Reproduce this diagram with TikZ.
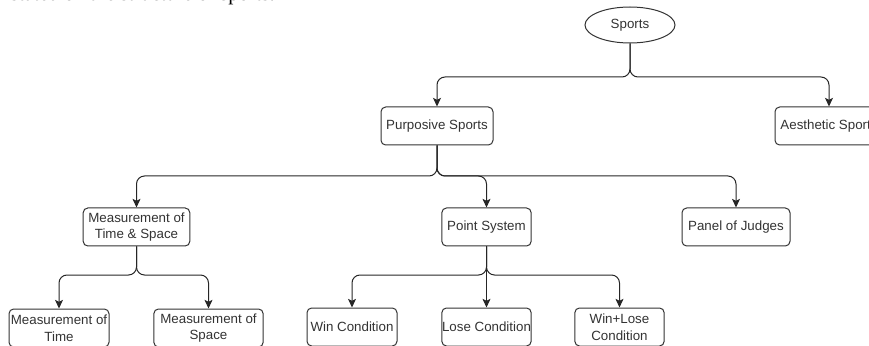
\documentclass[tikz,border=0pt]{standalone}
\usepackage{fontspec}
\setmainfont{Liberation Serif}
\newfontfamily\diafont{Liberation Sans}
\usetikzlibrary{arrows.meta,positioning,shapes.geometric}

\tikzset{
  box/.style={draw=black!80, line width=0.75pt, rounded corners=3.5pt, fill=white,
    minimum height=28.5pt, inner sep=0pt, align=center, text=black!80,
    font=\diafont\fontsize{10}{12.5}\selectfont},
  oval/.style={draw=black!80, line width=0.75pt, ellipse, fill=white,
    minimum width=67.5pt, minimum height=27pt, inner sep=0pt, text=black!80,
    font=\diafont\fontsize{10}{12.5}\selectfont},
  edge/.style={draw=black!85, line width=0.75pt, rounded corners=6pt,
    -{Stealth[length=6.5pt,width=6pt,inset=1.5pt]}}
}

\begin{document}
\begin{tikzpicture}[x=0.75pt,y=0.75pt,yscale=-1,xscale=1]
    \useasboundingbox (0,0) rectangle (869,346);
    \clip (0,0) rectangle (869,346);

    % Text Node (line of the page above the figure)
    \node [anchor=base east, inner sep=0pt, font=\fontsize{15.5}{15.5}\selectfont] (intro) at (275,1) {stated on the structure of sports.};

    %Shape: Ellipse
    \node [oval] (sports) at (630,25) {Sports};

    %Shape: Rectangles, second row
    \node [box, minimum width=84pt] (purposive) at (437,126) {Purposive Sports};
    \node [box, minimum width=81pt] (aesthetic) at (829,126) {Aesthetic Sports};

    %Shape: Rectangles, third row
    \node [box, minimum width=80pt] (timespace) at (136.5,227) {Measurement of\\Time \& Space};
    \node [box, minimum width=67pt] (points) at (486.5,227) {Point System};
    \node [box, minimum width=81pt] (judges) at (736,227) {Panel of Judges};

    %Shape: Rectangles, fourth row
    \node [box, minimum width=75pt] (mtime) at (59,328) {Measurement of\\Time};
    \node [box, minimum width=82pt] (mspace) at (208.5,328) {Measurement of\\Space};
    \node [box, minimum width=67.5pt] (win) at (352,327) {Win Condition};
    \node [box, minimum width=67pt] (lose) at (486.5,327) {Lose Condition};
    \node [box, minimum width=67pt] (winlose) at (619.5,327) {Win+Lose\\Condition};

    % branch levels
    \coordinate (lvl0) at (0,77);
    \coordinate (lvl1) at (0,176);
    \coordinate (lvl2) at (0,275);

    %Connectors
    \draw [edge] (sports.south) -- (sports.south |- lvl0) -| (purposive.north);
    \draw [edge] (sports.south) -- (sports.south |- lvl0) -| (aesthetic.north);

    \draw [edge] (purposive.south) -- (purposive.south |- lvl1) -| (timespace.north);
    \draw [edge] (purposive.south) -- (purposive.south |- lvl1) -| (points.north);
    \draw [edge] (purposive.south) -- (purposive.south |- lvl1) -| (judges.north);

    \draw [edge] (timespace.south) -- (timespace.south |- lvl2) -| (mtime.north);
    \draw [edge] (timespace.south) -- (timespace.south |- lvl2) -| (mspace.north);

    \draw [edge] (points.south) -- (points.south |- lvl2) -| (win.north);
    \draw [edge] (points.south) -- (lose.north);
    \draw [edge] (points.south) -- (points.south |- lvl2) -| (winlose.north);

\end{tikzpicture}
\end{document}
